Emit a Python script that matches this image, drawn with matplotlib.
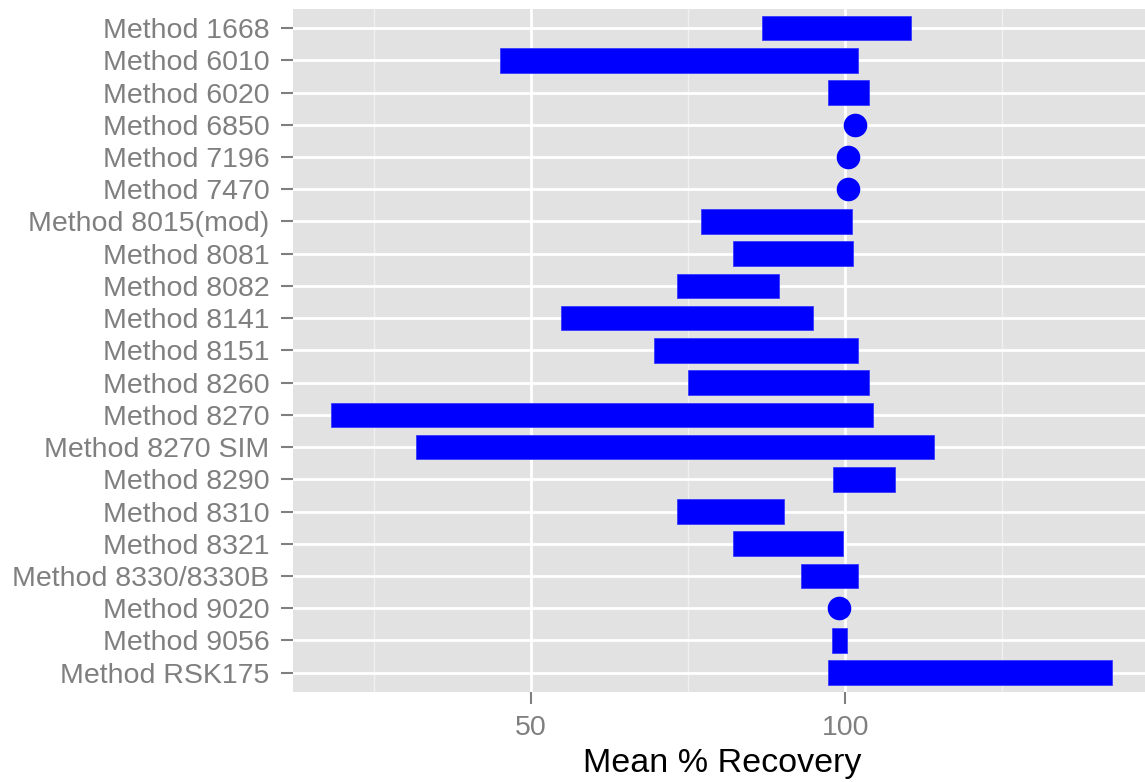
import matplotlib
matplotlib.use("Agg")
import matplotlib.pyplot as plt
from matplotlib.ticker import FixedLocator

plt.rcParams["font.family"] = ["Liberation Sans", "DejaVu Sans"]

# Recovery ranges per analytical method (low / high mean % recovery).
# Where low == high the method has a single value and is drawn as a point.
methods = [
    "Method 1668", "Method 6010", "Method 6020", "Method 6850", "Method 7196",
    "Method 7470", "Method 8015(mod)", "Method 8081", "Method 8082",
    "Method 8141", "Method 8151", "Method 8260", "Method 8270",
    "Method 8270 SIM", "Method 8290", "Method 8310", "Method 8321",
    "Method 8330/8330B", "Method 9020", "Method 9056", "Method RSK175",
]
recovery_low = [86.8, 45.1, 97.3, 101.6, 100.5, 100.5, 77.0, 82.1, 73.3,
                54.8, 69.6, 74.9, 18.2, 31.6, 98.0, 73.3, 82.1, 92.9,
                99.0, 97.9, 97.3]
recovery_high = [110.5, 102.0, 103.8, 101.6, 100.5, 100.5, 101.1, 101.2, 89.4,
                 94.9, 102.0, 103.8, 104.4, 114.1, 107.9, 90.3, 99.6, 102.0,
                 99.0, 100.3, 142.5]

major_ticks = [50, 100]
minor_ticks = [25, 75, 125]
x_label = "Mean % Recovery"

W, H, DPI = 1145, 782, 100
fig = plt.figure(figsize=(W / DPI, H / DPI), dpi=DPI)
fig.patch.set_facecolor("white")

left_px, right_px, top_px, bottom_px = 292.5, 1151.0, 8.7, 692.0
ax = fig.add_axes([left_px / W, 1 - bottom_px / H,
                   (right_px - left_px) / W, (bottom_px - top_px) / H])
ax.set_facecolor("#E2E2E2")

ypos = list(range(len(methods)))
bar_color = "#0000FF"
bar_h = 0.76

for y, lo, hi in zip(ypos, recovery_low, recovery_high):
    if hi > lo:
        ax.barh(y, hi - lo, left=lo, height=bar_h, color=bar_color,
                edgecolor="#3a3aff", linewidth=0.6, zorder=3)
    else:
        ax.plot([lo], [y], marker="o", markersize=17, color=bar_color,
                markeredgewidth=0, linestyle="none", zorder=3)

ax.set_xlim(12.0, 148.7)
ax.set_ylim(len(methods) - 1 + 0.6, -0.6)

ax.xaxis.set_major_locator(FixedLocator(major_ticks))
ax.xaxis.set_minor_locator(FixedLocator(minor_ticks))
ax.set_yticks(ypos)
ax.set_yticklabels(methods)

# grid: white major lines, faint minor lines on x only
ax.grid(True, which="major", axis="both", color="white", linewidth=2.0, zorder=0)
ax.grid(True, which="minor", axis="x", color="#F0F0F0", linewidth=1.0, zorder=0)
ax.set_axisbelow(True)

for s in ax.spines.values():
    s.set_visible(False)

tick_color = "#7F7F7F"
ax.tick_params(axis="both", which="major", length=8.5, width=1.5,
               color=tick_color, labelcolor=tick_color, labelsize=20.5)
ax.tick_params(axis="x", which="major", pad=8)
ax.tick_params(axis="y", which="major", pad=8)
ax.tick_params(axis="x", which="minor", length=0)

ax.set_xlabel(x_label, fontsize=24.5, color="black", labelpad=5)

fig.savefig("out.png", dpi=DPI, facecolor=fig.get_facecolor())
